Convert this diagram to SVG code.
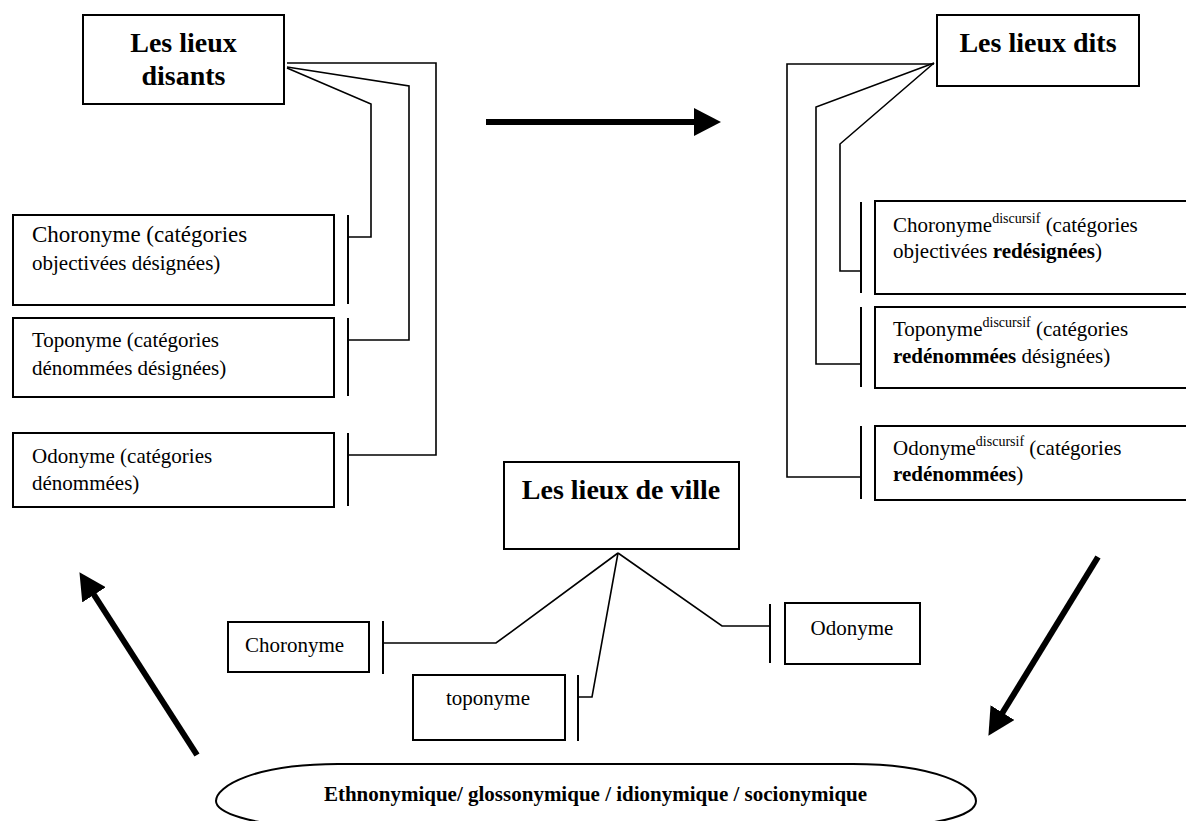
<svg xmlns="http://www.w3.org/2000/svg" width="1186" height="821" viewBox="0 0 1186 821">
<style>
.box{fill:#fff;stroke:#000;stroke-width:2}
.con{fill:none;stroke:#000;stroke-width:1.6}
.bar{stroke:#000;stroke-width:2}
.arr{fill:none;stroke:#000;stroke-width:6}
.t{font-family:"Liberation Serif","Times New Roman",serif;fill:#000}
.title{font-size:28px;font-weight:bold;text-anchor:middle}
.body{font-size:21px}
.sup{font-size:14px}
.b{font-weight:bold}
</style>
<defs>
<marker id="head" viewBox="0 0 27 28" refX="1" refY="14" markerWidth="27" markerHeight="28" markerUnits="userSpaceOnUse" orient="auto">
<path d="M0,0 L27,14 L0,28 Z" fill="#000"/>
</marker>
</defs>
<rect width="1186" height="821" fill="#fff"/>

<g id="connectors">
<path class="con" d="M287,63 H436 V455 H348"/>
<path class="con" d="M287,67 L409,86 V340 H348"/>
<path class="con" d="M287,68 L371,104 V237 H348"/>
<line class="bar" x1="348" y1="215" x2="348" y2="304"/>
<line class="bar" x1="348" y1="318" x2="348" y2="396"/>
<line class="bar" x1="348" y1="433" x2="348" y2="506"/>

<path class="con" d="M934,64 H787 V477 H861"/>
<path class="con" d="M934,63 L816,107 V364 H861"/>
<path class="con" d="M934,63 L840,144 V271 H861"/>
<line class="bar" x1="861" y1="202" x2="861" y2="293"/>
<line class="bar" x1="861" y1="307" x2="861" y2="387"/>
<line class="bar" x1="861" y1="426" x2="861" y2="499"/>

<path class="con" d="M618,553 L496,643 H383"/>
<path class="con" d="M618,553 L592,697 H578"/>
<path class="con" d="M618,553 L722,626 H770"/>
<line class="bar" x1="383" y1="621" x2="383" y2="674"/>
<line class="bar" x1="578" y1="675" x2="578" y2="741"/>
<line class="bar" x1="770" y1="604" x2="770" y2="663"/>

<line class="arr" x1="486" y1="122" x2="695" y2="122" marker-end="url(#head)"/>
<line class="arr" x1="197" y1="755" x2="93.5" y2="594" marker-end="url(#head)"/>
<line class="arr" x1="1098" y1="557" x2="1002" y2="713.5" marker-end="url(#head)"/>
</g>

<g id="lieux-disants">
<rect class="box" x="83" y="15" width="201" height="89"/>
<text class="t title" x="183.5" y="52">Les lieux</text>
<text class="t title" x="183.5" y="85">disants</text>
</g>

<g id="lieux-dits">
<rect class="box" x="937" y="15" width="202" height="71"/>
<text class="t title" x="1038" y="52">Les lieux dits</text>
</g>

<g id="choronyme-l">
<rect class="box" x="13" y="215" width="321" height="90"/>
<text class="t" x="32" y="242" style="font-size:23px">Choronyme (catégories</text>
<text class="t body" x="32" y="270">objectivées désignées)</text>
</g>
<g id="toponyme-l">
<rect class="box" x="13" y="318" width="321" height="79"/>
<text class="t body" x="32" y="347">Toponyme (catégories</text>
<text class="t body" x="32" y="375">dénommées désignées)</text>
</g>
<g id="odonyme-l">
<rect class="box" x="13" y="433" width="321" height="74"/>
<text class="t body" x="32" y="463">Odonyme (catégories</text>
<text class="t body" x="32" y="490">dénommées)</text>
</g>

<g id="choronyme-r">
<rect class="box" x="875" y="201" width="320" height="93"/>
<text class="t body" x="893" y="232">Choronyme<tspan class="sup" dy="-9">discursif</tspan><tspan dy="9"> (catégories</tspan></text>
<text class="t body" x="893" y="258">objectivées <tspan class="b">redésignées</tspan>)</text>
</g>
<g id="toponyme-r">
<rect class="box" x="875" y="307" width="320" height="81"/>
<text class="t body" x="893" y="336">Toponyme<tspan class="sup" dy="-9">discursif</tspan><tspan dy="9"> (catégories</tspan></text>
<text class="t body" x="893" y="363"><tspan class="b">redénommées</tspan> désignées)</text>
</g>
<g id="odonyme-r">
<rect class="box" x="875" y="426" width="320" height="74"/>
<text class="t body" x="893" y="455">Odonyme<tspan class="sup" dy="-9">discursif</tspan><tspan dy="9"> (catégories</tspan></text>
<text class="t body" x="893" y="481"><tspan class="b">redénommées</tspan>)</text>
</g>

<g id="lieux-de-ville">
<rect class="box" x="504" y="462" width="235" height="87"/>
<text class="t title" x="621" y="499">Les lieux de ville</text>
</g>

<g id="choronyme-m">
<rect class="box" x="228" y="622" width="141" height="50"/>
<text class="t body" x="294.5" y="652" text-anchor="middle">Choronyme</text>
</g>
<g id="toponyme-m">
<rect class="box" x="413" y="675" width="152" height="65"/>
<text class="t body" x="488" y="705" text-anchor="middle">toponyme</text>
</g>
<g id="odonyme-m">
<rect class="box" x="785" y="603" width="135" height="61"/>
<text class="t body" x="852" y="635" text-anchor="middle">Odonyme</text>
</g>

<g id="ethnonymique">
<path class="box" d="M338,764 H853 C935,764 976,786 976,801 C976,814 945,824 880,828 H310 C250,824 216,813 216,801 C216,786 255,764 338,764 Z"/>
<text class="t b" x="595.5" y="801" font-size="21" text-anchor="middle">Ethnonymique/ glossonymique / idionymique / socionymique</text>
</g>
</svg>
